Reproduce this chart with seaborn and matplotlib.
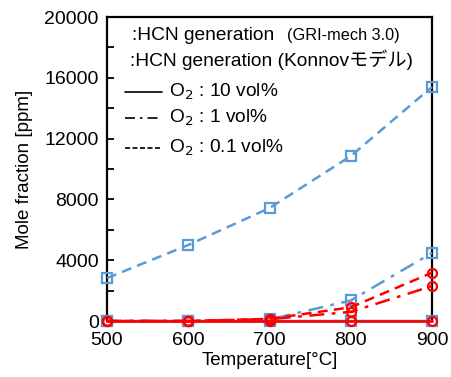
import pandas as pd
import matplotlib.pyplot as plt
import matplotlib.ticker as mt
import seaborn as sns

temps = [500, 600, 700, 800, 900]

# GRI-mech 3.0 (blue squares)
gri_10 = [0, 0, 0, 0, 0]
gri_1 = [0, 0, 100, 1350, 4480]
gri_01 = [2820, 5000, 7430, 10850, 15400]

# Konnov model (red circles)
kon_10 = [0, 0, 0, 0, 0]
kon_1 = [0, 0, 120, 600, 2300]
kon_01 = [0, 0, 140, 900, 3180]

blue = '#5B9BD5'
red = '#FF0000'

sns.set_style('ticks')
plt.rcParams['font.family'] = ['Liberation Sans', 'Noto Sans CJK JP']
plt.rcParams['text.color'] = 'black'
plt.rcParams['axes.labelcolor'] = 'black'
plt.rcParams['xtick.color'] = 'black'
plt.rcParams['ytick.color'] = 'black'

fig = plt.figure(figsize=(4.52, 3.77), dpi=100)
ax = fig.add_axes([107 / 452, 56 / 377, 325 / 452, 304 / 377])

series = [
    (gri_10, blue, '-', 's'),
    (gri_1, blue, (0, (6, 3, 1.5, 3)), 's'),
    (gri_01, blue, (0, (4, 2.5)), 's'),
    (kon_10, red, '-', 'o'),
    (kon_1, red, (0, (6, 3, 1.5, 3)), 'o'),
    (kon_01, red, (0, (4, 2.5)), 'o'),
]
for vals, col, ls, mk in series:
    df = pd.DataFrame({'T': temps, 'y': vals})
    sns.lineplot(data=df, x='T', y='y', ax=ax, color=col, linestyle=ls, linewidth=1.8,
                 marker=mk, markersize=6.5, markerfacecolor='none', markeredgecolor=col,
                 markeredgewidth=1.6, clip_on=False, zorder=3)

ax.set_xlim(500, 900)
ax.set_ylim(0, 20000)
ax.set_xticks(temps)
ax.set_yticks(range(0, 20001, 4000))
ax.yaxis.set_minor_locator(mt.MultipleLocator(2000))
ax.tick_params(axis='both', which='both', direction='in', labelsize=14, width=1.3)
ax.tick_params(axis='y', which='both', length=5, pad=6)
ax.tick_params(axis='x', length=0, pad=8)
for s in ax.spines.values():
    s.set_linewidth(1.6)
    s.set_color('black')
ax.set_xlabel('Temperature[°C]', fontsize=13.5, labelpad=2)
ax.set_ylabel('Mole fraction [ppm]', fontsize=13.5, labelpad=8)

# legend block
tf = ax.transAxes
ax.text(0.077, 0.94, ':HCN generation', transform=tf, fontsize=13.8, va='center')
ax.text(0.554, 0.94, '(GRI-mech 3.0)', transform=tf, fontsize=11.7, va='center')
ax.text(0.071, 0.859, ':HCN generation (Konnovモデル)', transform=tf, fontsize=13.8, va='center')
rows = [('-', 0.753, 'O$_2$ : 10 vol%'),
        ((0, (6, 3, 1.5, 3)), 0.668, 'O$_2$ : 1 vol%'),
        ((0, (3, 1.5)), 0.569, 'O$_2$ : 0.1 vol%')]
for ls, y, lab in rows:
    ax.plot([0.055, 0.17], [y, y], transform=tf, color='black', linestyle=ls, linewidth=1.2)
    ax.text(0.19, y, lab, transform=tf, fontsize=13.8, va='center')

fig.savefig('out.png', dpi=100)
